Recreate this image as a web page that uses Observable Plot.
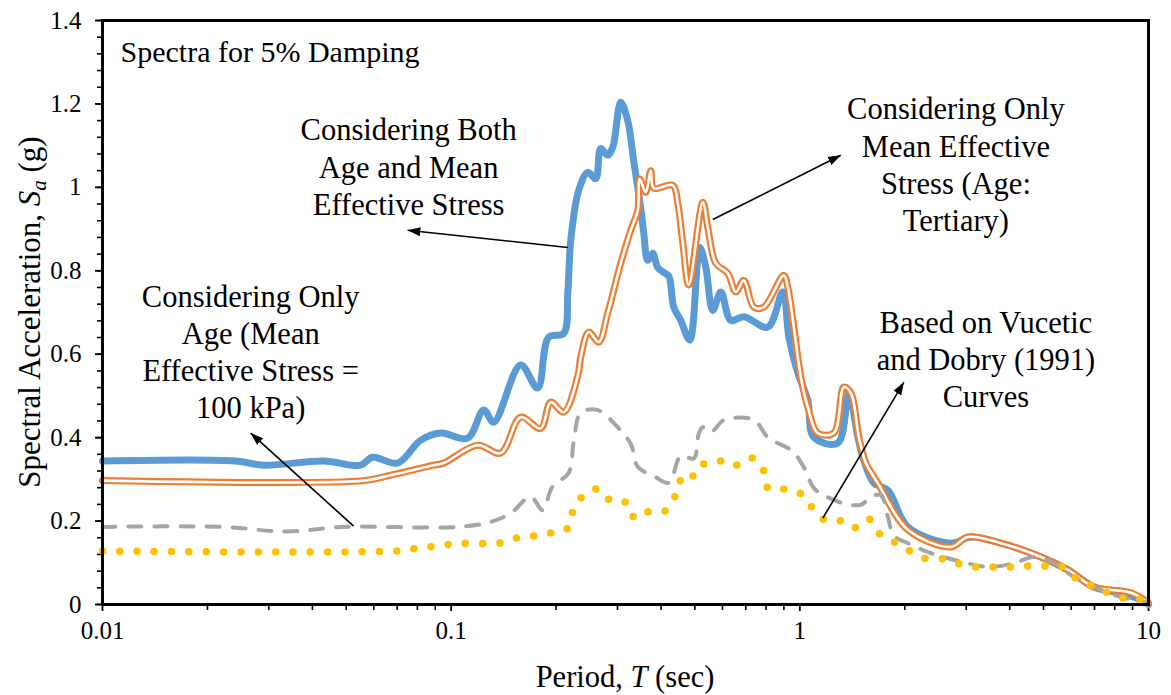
<!DOCTYPE html>
<html>
<head>
<meta charset="utf-8">
<script src="https://cdn.jsdelivr.net/npm/d3@7"></script>
<script src="https://cdn.jsdelivr.net/npm/@observablehq/plot@0.6"></script>
<style>
  body { margin: 0; background: #fff; }
  #chart svg { display: block; }
</style>
</head>
<body>
<div id="chart"></div>
<script>
// Response spectra (5% damping): period T (sec) and spectral acceleration Sa (g)

// Considering both age and mean effective stress
const periodBoth = [0.01, 0.0241, 0.029, 0.0431, 0.055, 0.0595, 0.0702, 0.0818, 0.0933, 0.1115, 0.124, 0.1324, 0.1582, 0.177, 0.1905, 0.2103, 0.216, 0.2203, 0.2322, 0.2465, 0.2598, 0.2685, 0.2812, 0.2907, 0.3064, 0.3209, 0.3339, 0.3497, 0.3568, 0.3663, 0.3785, 0.3912, 0.4072, 0.4209, 0.4349, 0.4556, 0.4834, 0.5165, 0.5374, 0.5628, 0.5934, 0.6339, 0.6908, 0.8094, 0.8937, 0.9299, 0.9869, 1.054, 1.097, 1.285, 1.382, 1.467, 1.526, 1.631, 1.789, 2.041, 2.713, 3.095, 3.775, 4.915, 5.875, 6.976, 8.175, 9.087, 10];
const saBoth = [0.344, 0.344, 0.334, 0.344, 0.334, 0.353, 0.339, 0.394, 0.411, 0.399, 0.466, 0.437, 0.574, 0.519, 0.641, 0.650, 0.746, 0.873, 0.993, 1.036, 1.021, 1.093, 1.077, 1.096, 1.204, 1.160, 1.063, 0.950, 0.890, 0.825, 0.842, 0.808, 0.796, 0.787, 0.713, 0.681, 0.634, 0.856, 0.808, 0.705, 0.749, 0.681, 0.690, 0.665, 0.749, 0.641, 0.555, 0.490, 0.401, 0.387, 0.505, 0.401, 0.346, 0.291, 0.274, 0.186, 0.147, 0.162, 0.147, 0.114, 0.083, 0.042, 0.028, 0.018, 0.0];

// Considering only mean effective stress (age: Tertiary)
const periodMean = [0.01, 0.0561, 0.0671, 0.0891, 0.0952, 0.1191, 0.1387, 0.1582, 0.1806, 0.193, 0.2103, 0.231, 0.2353, 0.2481, 0.265, 0.2812, 0.3064, 0.3274, 0.3429, 0.3474, 0.3614, 0.3736, 0.3811, 0.432, 0.4466, 0.4617, 0.4802, 0.5268, 0.5445, 0.5741, 0.6214, 0.6552, 0.6908, 0.7379, 0.7882, 0.8998, 0.924, 0.9612, 1.0066, 1.054, 1.126, 1.252, 1.337, 1.401, 1.477, 1.547, 1.674, 2.041, 2.713, 3.034, 3.775, 4.915, 5.875, 6.976, 8.908, 10];
const saMean = [0.297, 0.297, 0.31, 0.334, 0.339, 0.382, 0.363, 0.449, 0.422, 0.485, 0.461, 0.55, 0.593, 0.653, 0.629, 0.698, 0.818, 0.897, 0.945, 1.02, 0.988, 1.04, 0.998, 1.005, 0.962, 0.866, 0.766, 0.964, 0.904, 0.818, 0.794, 0.749, 0.777, 0.713, 0.713, 0.789, 0.760, 0.665, 0.545, 0.473, 0.411, 0.411, 0.521, 0.507, 0.401, 0.339, 0.291, 0.179, 0.138, 0.162, 0.147, 0.114, 0.083, 0.042, 0.028, 0.004];

// Considering only age (mean effective stress = 100 kPa)
const periodAge = [0.01, 0.0222, 0.031, 0.0363, 0.0482, 0.1044, 0.1298, 0.1482, 0.1691, 0.183, 0.195, 0.2174, 0.2246, 0.2353, 0.2633, 0.3004, 0.3274, 0.3429, 0.3811, 0.4209, 0.4556, 0.4963, 0.5131, 0.5268, 0.5554, 0.6052, 0.7093, 0.7477, 0.8094, 0.924, 0.9612, 1.027, 1.097, 1.172, 1.328, 1.496, 1.598, 1.708, 1.789, 1.861, 2.041, 2.376, 2.897, 3.463, 4.113, 4.693, 5.355, 6.113, 7.308, 8.34, 10];
const saAge = [0.186, 0.186, 0.176, 0.176, 0.186, 0.186, 0.198, 0.219, 0.258, 0.226, 0.282, 0.316, 0.39, 0.459, 0.466, 0.425, 0.385, 0.33, 0.308, 0.292, 0.356, 0.35, 0.41, 0.425, 0.413, 0.442, 0.447, 0.44, 0.401, 0.375, 0.365, 0.329, 0.279, 0.262, 0.243, 0.239, 0.258, 0.262, 0.21, 0.165, 0.147, 0.123, 0.103, 0.09, 0.099, 0.114, 0.099, 0.066, 0.035, 0.018, 0.004];

// Based on Vucetic and Dobry (1991) curves
const periodVD = [0.01, 0.0684, 0.0775, 0.0862, 0.0964, 0.1086, 0.1369, 0.1531, 0.1713, 0.1892, 0.2062, 0.2174, 0.2246, 0.24, 0.265, 0.287, 0.3209, 0.3361, 0.3663, 0.4099, 0.4378, 0.4525, 0.4802, 0.5063, 0.5268, 0.5665, 0.6133, 0.664, 0.7331, 0.7882, 0.8094, 0.8998, 1.0, 1.075, 1.164, 1.294, 1.419, 1.578, 1.686, 1.861, 2.041, 2.269, 2.539, 2.841, 3.157, 3.556, 3.979, 4.451, 5.013, 5.609, 6.113, 6.752, 7.551, 8.395, 9.33, 10];
const saVD = [0.128, 0.128, 0.133, 0.138, 0.143, 0.147, 0.147, 0.159, 0.164, 0.171, 0.174, 0.186, 0.229, 0.262, 0.277, 0.248, 0.243, 0.207, 0.222, 0.224, 0.258, 0.296, 0.291, 0.329, 0.336, 0.339, 0.346, 0.334, 0.351, 0.32, 0.279, 0.277, 0.267, 0.236, 0.205, 0.202, 0.183, 0.205, 0.171, 0.15, 0.131, 0.111, 0.11, 0.098, 0.09, 0.09, 0.09, 0.092, 0.092, 0.092, 0.066, 0.047, 0.03, 0.016, 0.013, 0.004];

// Axis ticks
const xTicks = [0.01, 0.1, 1, 10];
const xMinorTicks = [0.01, 0.1, 1].flatMap(d => [2, 3, 4, 5, 6, 7, 8, 9].map(k => +(d * k).toPrecision(3)));
const yTicks = [0, 0.2, 0.4, 0.6, 0.8, 1, 1.2, 1.4];
const yMinorTicks = d3.range(0, 71, 2).map(k => +(k / 50).toFixed(2));

// Callouts: label block centre and arrow (tail -> head), in data units
const noteText = [
  "Considering Both\nAge and Mean\nEffective Stress",
  "Considering Only\nMean Effective\nStress (Age:\nTertiary)",
  "Considering Only\nAge (Mean\nEffective Stress =\n100 kPa)",
  "Based on Vucetic\nand Dobry (1991)\nCurves"
];
const noteT = [0.0755, 2.803, 0.0266, 3.418];
const noteSa = [1.052, 1.058, 0.608, 0.590];
const arrowFromT = [0.216, 0.5628, 0.0525, 1.164];
const arrowFromSa = [0.856, 0.923, 0.188, 0.207];
const arrowToT = [0.075, 1.311, 0.0266, 1.988];
const arrowToSa = [0.897, 1.077, 0.411, 0.533];

const rows = (periods, values) => periods.map((T, i) => ({T, Sa: values[i]}));
const both = rows(periodBoth, saBoth);
const mean = rows(periodMean, saMean);
const age = rows(periodAge, saAge);
const vd = rows(periodVD, saVD);
const notes = noteText.map((text, i) => ({text, T: noteT[i], Sa: noteSa[i]}));
const arrows = arrowFromT.map((t, i) => ({x1: t, y1: arrowFromSa[i], x2: arrowToT[i], y2: arrowToSa[i]}));

const serif = "'Liberation Serif', 'Times New Roman', serif";
const curve = "catmull-rom";

const chart = Plot.plot({
  width: 1171,
  height: 695,
  marginLeft: 102,
  marginRight: 23,
  marginTop: 20,
  marginBottom: 91,
  style: {fontFamily: serif, fontSize: "25px", color: "black", background: "white"},
  x: {type: "log", domain: [0.01, 10]},
  y: {domain: [0, 1.4]},
  marks: [
    // minor and major ticks, outside the frame
    Plot.axisY(yMinorTicks, {tickSize: 5, strokeWidth: 1.6, tickFormat: () => "", label: null}),
    Plot.axisY(yTicks, {tickSize: 7, strokeWidth: 1.8, tickPadding: 14, fontSize: 25, tickFormat: d => String(d), label: null}),
    Plot.axisX(xMinorTicks, {tickSize: 6, strokeWidth: 1.6, tickFormat: () => "", label: null}),
    Plot.axisX(xTicks, {tickSize: 7, strokeWidth: 1.8, tickPadding: 10, fontSize: 25, tickFormat: d => String(d), label: null}),

    // spectra
    Plot.line(both, {x: "T", y: "Sa", stroke: "#5B9BD5", strokeWidth: 7, curve}),
    Plot.line(mean, {x: "T", y: "Sa", stroke: "#ED7D31", strokeWidth: 7, curve}),
    Plot.line(mean, {x: "T", y: "Sa", stroke: "white", strokeWidth: 2.6, curve}),
    Plot.line(age, {x: "T", y: "Sa", stroke: "#A5A5A5", strokeWidth: 4, strokeDasharray: "13 13", strokeLinecap: "round", curve}),
    Plot.line(vd, {x: "T", y: "Sa", stroke: "#FFC000", strokeWidth: 7.5, strokeDasharray: "0 17.3", strokeLinecap: "round", curve}),

    // callouts
    Plot.link(arrows, {x1: "x1", y1: "y1", x2: "x2", y2: "y2", stroke: "black", strokeWidth: 1.6, markerEnd: "arrow"}),
    Plot.text(notes, {x: "T", y: "Sa", text: "text", fontSize: 30.5, lineHeight: 1.215, textAnchor: "middle", lineAnchor: "middle", fill: "black"}),
    Plot.text(["Spectra for 5% Damping"], {text: d => d, frameAnchor: "top-left", dx: 18, dy: 20, fontSize: 30, textAnchor: "start", lineAnchor: "top", fill: "black"}),

    Plot.frame({stroke: "black", strokeWidth: 3})
  ]
});

// Filled triangular arrowheads for the callout arrows
const svg = d3.select(chart);
svg.selectAll("marker").each(function() {
  const m = d3.select(this);
  m.attr("viewBox", "0 -5 10 10")
    .attr("refX", 10)
    .attr("refY", 0)
    .attr("markerWidth", 8)
    .attr("markerHeight", 8)
    .attr("fill", "black")
    .attr("stroke", "none");
  m.selectAll("*").remove();
  m.append("path").attr("d", "M0,-3.5L10,0L0,3.5Z");
});

// Axis titles with italic symbols
const [x0, x1] = chart.scale("x").range;
const [yb, yt] = chart.scale("y").range;
const xTitle = svg.append("text")
  .attr("x", (x0 + x1) / 2)
  .attr("y", 687)
  .attr("text-anchor", "middle")
  .attr("font-family", serif)
  .attr("font-size", 30.5)
  .attr("fill", "black");
xTitle.append("tspan").text("Period, ");
xTitle.append("tspan").attr("font-style", "italic").text("T");
xTitle.append("tspan").text(" (sec)");

const yTitle = svg.append("text")
  .attr("transform", `translate(40,${(yb + yt) / 2}) rotate(-90)`)
  .attr("text-anchor", "middle")
  .attr("font-family", serif)
  .attr("font-size", 31)
  .attr("fill", "black");
yTitle.append("tspan").text("Spectral Acceleration, ");
yTitle.append("tspan").attr("font-style", "italic").text("S");
yTitle.append("tspan").attr("font-style", "italic").attr("font-size", 21).attr("dy", 6).text("a");
yTitle.append("tspan").attr("dy", -6).text(" (g)");

document.getElementById("chart").appendChild(chart);
</script>
</body>
</html>
